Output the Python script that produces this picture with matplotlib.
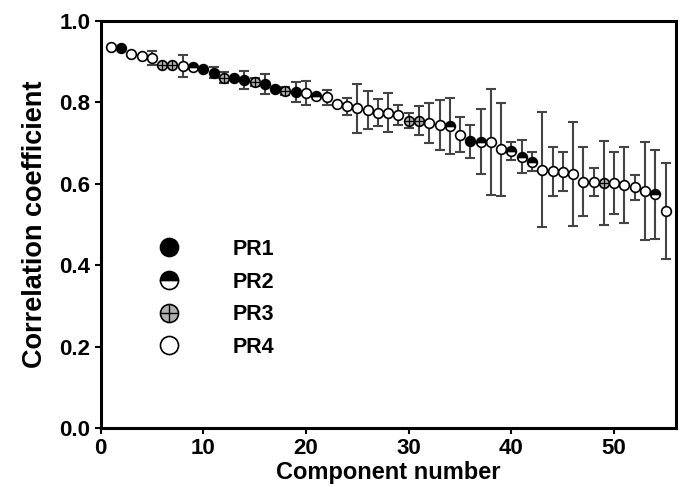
import matplotlib.pyplot as plt
from matplotlib.lines import Line2D
import numpy as np

plt.rcParams['font.family'] = ['Liberation Sans', 'DejaVu Sans']
plt.rcParams['font.weight'] = 'bold'

# component number, mean correlation, error, group (1..4 = PR1..PR4)
comp = np.arange(1, 56)
corr = [0.935, 0.933, 0.918, 0.914, 0.908, 0.891, 0.891, 0.890, 0.886, 0.882,
        0.873, 0.861, 0.860, 0.855, 0.851, 0.845, 0.834, 0.828, 0.825, 0.823,
        0.815, 0.812, 0.797, 0.790, 0.785, 0.781, 0.775, 0.774, 0.769, 0.755,
        0.755, 0.749, 0.744, 0.742, 0.721, 0.704, 0.703, 0.703, 0.685, 0.681,
        0.667, 0.654, 0.635, 0.631, 0.630, 0.624, 0.605, 0.605, 0.602, 0.602,
        0.597, 0.591, 0.583, 0.574, 0.533]
err = [0.0, 0.0, 0.0, 0.0, 0.017, 0.0, 0.0, 0.027, 0.0, 0.0,
       0.014, 0.013, 0.0, 0.021, 0.010, 0.025, 0.0, 0.010, 0.025, 0.030,
       0.0, 0.018, 0.0, 0.021, 0.061, 0.046, 0.033, 0.048, 0.025, 0.018,
       0.036, 0.050, 0.062, 0.069, 0.043, 0.041, 0.080, 0.130, 0.114, 0.022,
       0.040, 0.023, 0.141, 0.060, 0.048, 0.127, 0.085, 0.035, 0.104, 0.076,
       0.094, 0.031, 0.120, 0.110, 0.117]
group = [4, 1, 4, 4, 4, 3, 3, 4, 2, 1,
         1, 3, 1, 1, 3, 1, 1, 3, 1, 4,
         2, 4, 4, 4, 4, 4, 4, 4, 4, 3,
         3, 4, 4, 2, 4, 1, 2, 4, 4, 2,
         2, 2, 4, 4, 4, 4, 4, 4, 3, 4,
         4, 4, 4, 2, 4]
labels = ['PR1', 'PR2', 'PR3', 'PR4']

comp = np.array(comp)
corr = np.array(corr)
err = np.array(err)
group = np.array(group)

fig = plt.figure(figsize=(6.84, 4.87), dpi=100)
ax = fig.add_axes([0.147, 0.121, 0.841, 0.836])

ax.errorbar(comp, corr, yerr=err, fmt='none', ecolor='#444444',
            elinewidth=1.5, capsize=3.8, capthick=1.5, zorder=2)

ms = 7
styles = {
    1: dict(marker='o', color='black', markerfacecolor='black'),
    2: dict(marker='o', color='black', markerfacecolor='black',
            fillstyle='top', markerfacecoloralt='white'),
    3: dict(marker='o', color='black', markerfacecolor='#b0b0b0'),
    4: dict(marker='o', color='black', markerfacecolor='white'),
}
for g in [1, 2, 3, 4]:
    m = group == g
    ax.plot(comp[m], corr[m], linestyle='none', markersize=ms,
            markeredgewidth=1.2, markeredgecolor='black', zorder=3,
            **styles[g])
    if g == 3:
        ax.plot(comp[m], corr[m], linestyle='none', marker='+',
                markersize=ms, markeredgewidth=0.9, color='black', zorder=4)

leg_kw = dict(loc='upper left', bbox_to_anchor=(0.058, 0.512), frameon=False,
              handlelength=1.5, handletextpad=2.2, labelspacing=0.54,
              prop={'size': 15.5, 'weight': 'bold'})
handles = []
for g in [1, 2, 3, 4]:
    handles.append(Line2D([], [], linestyle='none', markersize=13,
                          markeredgewidth=1.2, markeredgecolor='black',
                          **styles[g]))
leg = ax.legend(handles, labels, **leg_kw)
ax.add_artist(leg)
# cross on the PR3 legend marker
blank = Line2D([], [], linestyle='none')
h3 = Line2D([], [], linestyle='none', marker='+', markersize=13,
            markeredgewidth=1.0, color='black')
ax.legend([blank, blank, h3, blank], labels, labelcolor='none', **leg_kw)

ax.set_xlim(0, 56)
ax.set_ylim(0, 1.0)
ax.set_xticks([0, 10, 20, 30, 40, 50])
ax.set_yticks([0.0, 0.2, 0.4, 0.6, 0.8, 1.0])
ax.set_yticklabels(['0.0', '0.2', '0.4', '0.6', '0.8', '1.0'])
ax.tick_params(axis='both', labelsize=16, width=1.5, length=4, direction='out')
for lab in ax.get_xticklabels() + ax.get_yticklabels():
    lab.set_fontweight('bold')
for s in ax.spines.values():
    s.set_linewidth(2.2)

ax.set_xlabel('Component number', fontsize=17, fontweight='bold', labelpad=1)
ax.set_ylabel('Correlation coefficient', fontsize=19.5, fontweight='bold', labelpad=8)

fig.savefig('out.png', dpi=100)
